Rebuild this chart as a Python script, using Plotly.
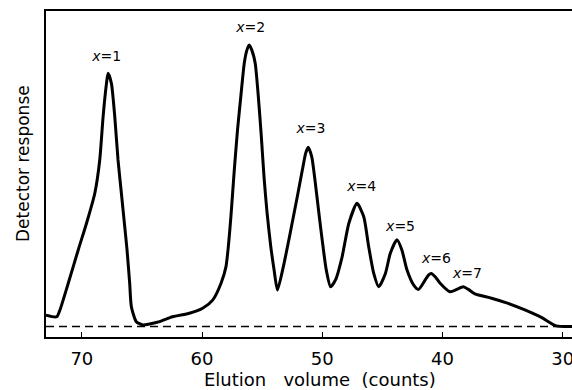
import plotly.graph_objects as go

# Elution volume (counts) and detector response (arbitrary units, 0 = axis line)
elution = [72.98, 72.09, 71.82, 71.13, 70.30, 69.61, 68.92, 68.51, 68.23, 67.95, 67.82, 67.54, 67.26,
           66.99, 66.71, 66.43, 66.24, 66.02, 65.88, 65.47, 64.92, 64.37, 63.54, 62.46, 61.05, 59.95,
           59.12, 58.42, 58.01, 57.79, 57.60, 57.32, 57.05, 56.77, 56.49, 56.27, 56.08, 55.86, 55.58,
           55.33, 55.08, 54.84, 54.59, 54.30, 54.01, 53.73, 53.18, 52.62, 52.08, 51.66, 51.38, 51.17, 50.88,
           50.61, 50.28, 50.01, 49.67, 49.31, 48.90, 48.35, 47.79, 47.11, 46.55, 46.14, 45.72, 45.31,
           44.75, 44.34, 43.79, 43.38, 42.96, 42.41, 42.00, 41.44, 41.17, 40.94, 40.61, 40.20, 39.37,
           38.82, 38.27, 37.85, 37.30, 35.92, 34.54, 33.15, 31.78, 30.54, 29.23]
response = [6.7, 6.2, 8.3, 16.5, 26.7, 34.9, 44.1, 54.3, 67.6, 77.8, 80.9, 77.8, 67.6,
            54.3, 44.1, 33.8, 26.7, 16.5, 9.3, 4.7, 3.7, 4.0, 4.7, 6.2, 7.3, 8.8,
            11.3, 16.5, 21.6, 28.7, 36.9, 51.2, 63.5, 74.0, 84.0, 88.0, 89.6, 88.0, 84.0,
            74.2, 62.0, 48.8, 38.0, 28.2, 20.6, 14.4, 22.6, 32.8, 43.0, 51.2, 56.4, 58.2, 55.3,
            48.2, 37.9, 29.8, 20.6, 15.4, 17.5, 24.6, 34.9, 41.0, 36.9, 27.7, 19.5, 15.4,
            19.5, 25.7, 29.8, 26.7, 20.6, 16.0, 14.6, 17.5, 19.0, 19.5, 18.5, 16.5, 13.9,
            14.6, 15.4, 14.6, 13.2, 11.9, 10.3, 8.3, 6.0, 3.4, 3.2]

baseline_x = [72.98, 29.23]
baseline_y = [3.2, 3.2]

peak_labels = ["<i>x</i>=1", "<i>x</i>=2", "<i>x</i>=3", "<i>x</i>=4", "<i>x</i>=5", "<i>x</i>=6", "<i>x</i>=7"]
peak_label_x = [67.93, 55.96, 50.94, 46.72, 43.49, 40.50, 37.93]
peak_label_y = [85.6, 94.5, 63.5, 46.0, 33.7, 23.9, 19.3]

tick_vals = [70, 60, 50, 40, 30]
tick_text = ["70", "60", "50", "40", "30"]

FONT = "DejaVu Sans"

fig = go.Figure()
fig.add_trace(go.Scatter(x=baseline_x, y=baseline_y, mode="lines",
                         line=dict(color="black", width=1.6, dash="8px,5px"),
                         hoverinfo="skip", showlegend=False))
fig.add_trace(go.Scatter(x=elution, y=response, mode="lines",
                         line=dict(color="black", width=3, shape="spline", smoothing=0.6),
                         showlegend=False))
fig.add_trace(go.Scatter(x=peak_label_x, y=peak_label_y, mode="text", text=peak_labels,
                         textfont=dict(family=FONT, size=14, color="black"),
                         hoverinfo="skip", showlegend=False))

fig.update_layout(
    width=572, height=390,
    margin=dict(l=46, r=0, t=11, b=53, autoexpand=False),
    paper_bgcolor="white", plot_bgcolor="white",
    font=dict(family=FONT, color="black"),
    xaxis=dict(range=[72.98, 29.23], showgrid=False, zeroline=False, automargin=False,
               showline=True, linecolor="black", linewidth=1.5, mirror=True,
               ticks="inside", ticklen=5, tickwidth=1.2, tickcolor="black",
               tickvals=tick_vals, ticktext=tick_text, ticklabeloverflow="allow",
               ticklabelstandoff=5,
               tickfont=dict(family=FONT, size=18, color="black")),
    yaxis=dict(range=[0, 100], showgrid=False, zeroline=False, automargin=False,
               showline=True, linecolor="black", linewidth=1.5,
               showticklabels=False, ticks=""),
    annotations=[
        dict(text="Elution&nbsp;&nbsp; volume&nbsp; (counts)", xref="paper", yref="paper",
             x=(320 - 46) / 526, y=-(379 - 337) / 326, xanchor="center", yanchor="middle",
             showarrow=False, font=dict(family=FONT, size=18, color="black")),
        dict(text="Detector response", xref="paper", yref="paper",
             x=-(46 - 23) / 526, y=(337 - 164) / 326, xanchor="center", yanchor="middle",
             textangle=-90, showarrow=False, font=dict(family=FONT, size=17, color="black")),
    ],
)

fig.write_html("out.html", config={"displayModeBar": False},
               post_script="document.body.style.margin='0';")
